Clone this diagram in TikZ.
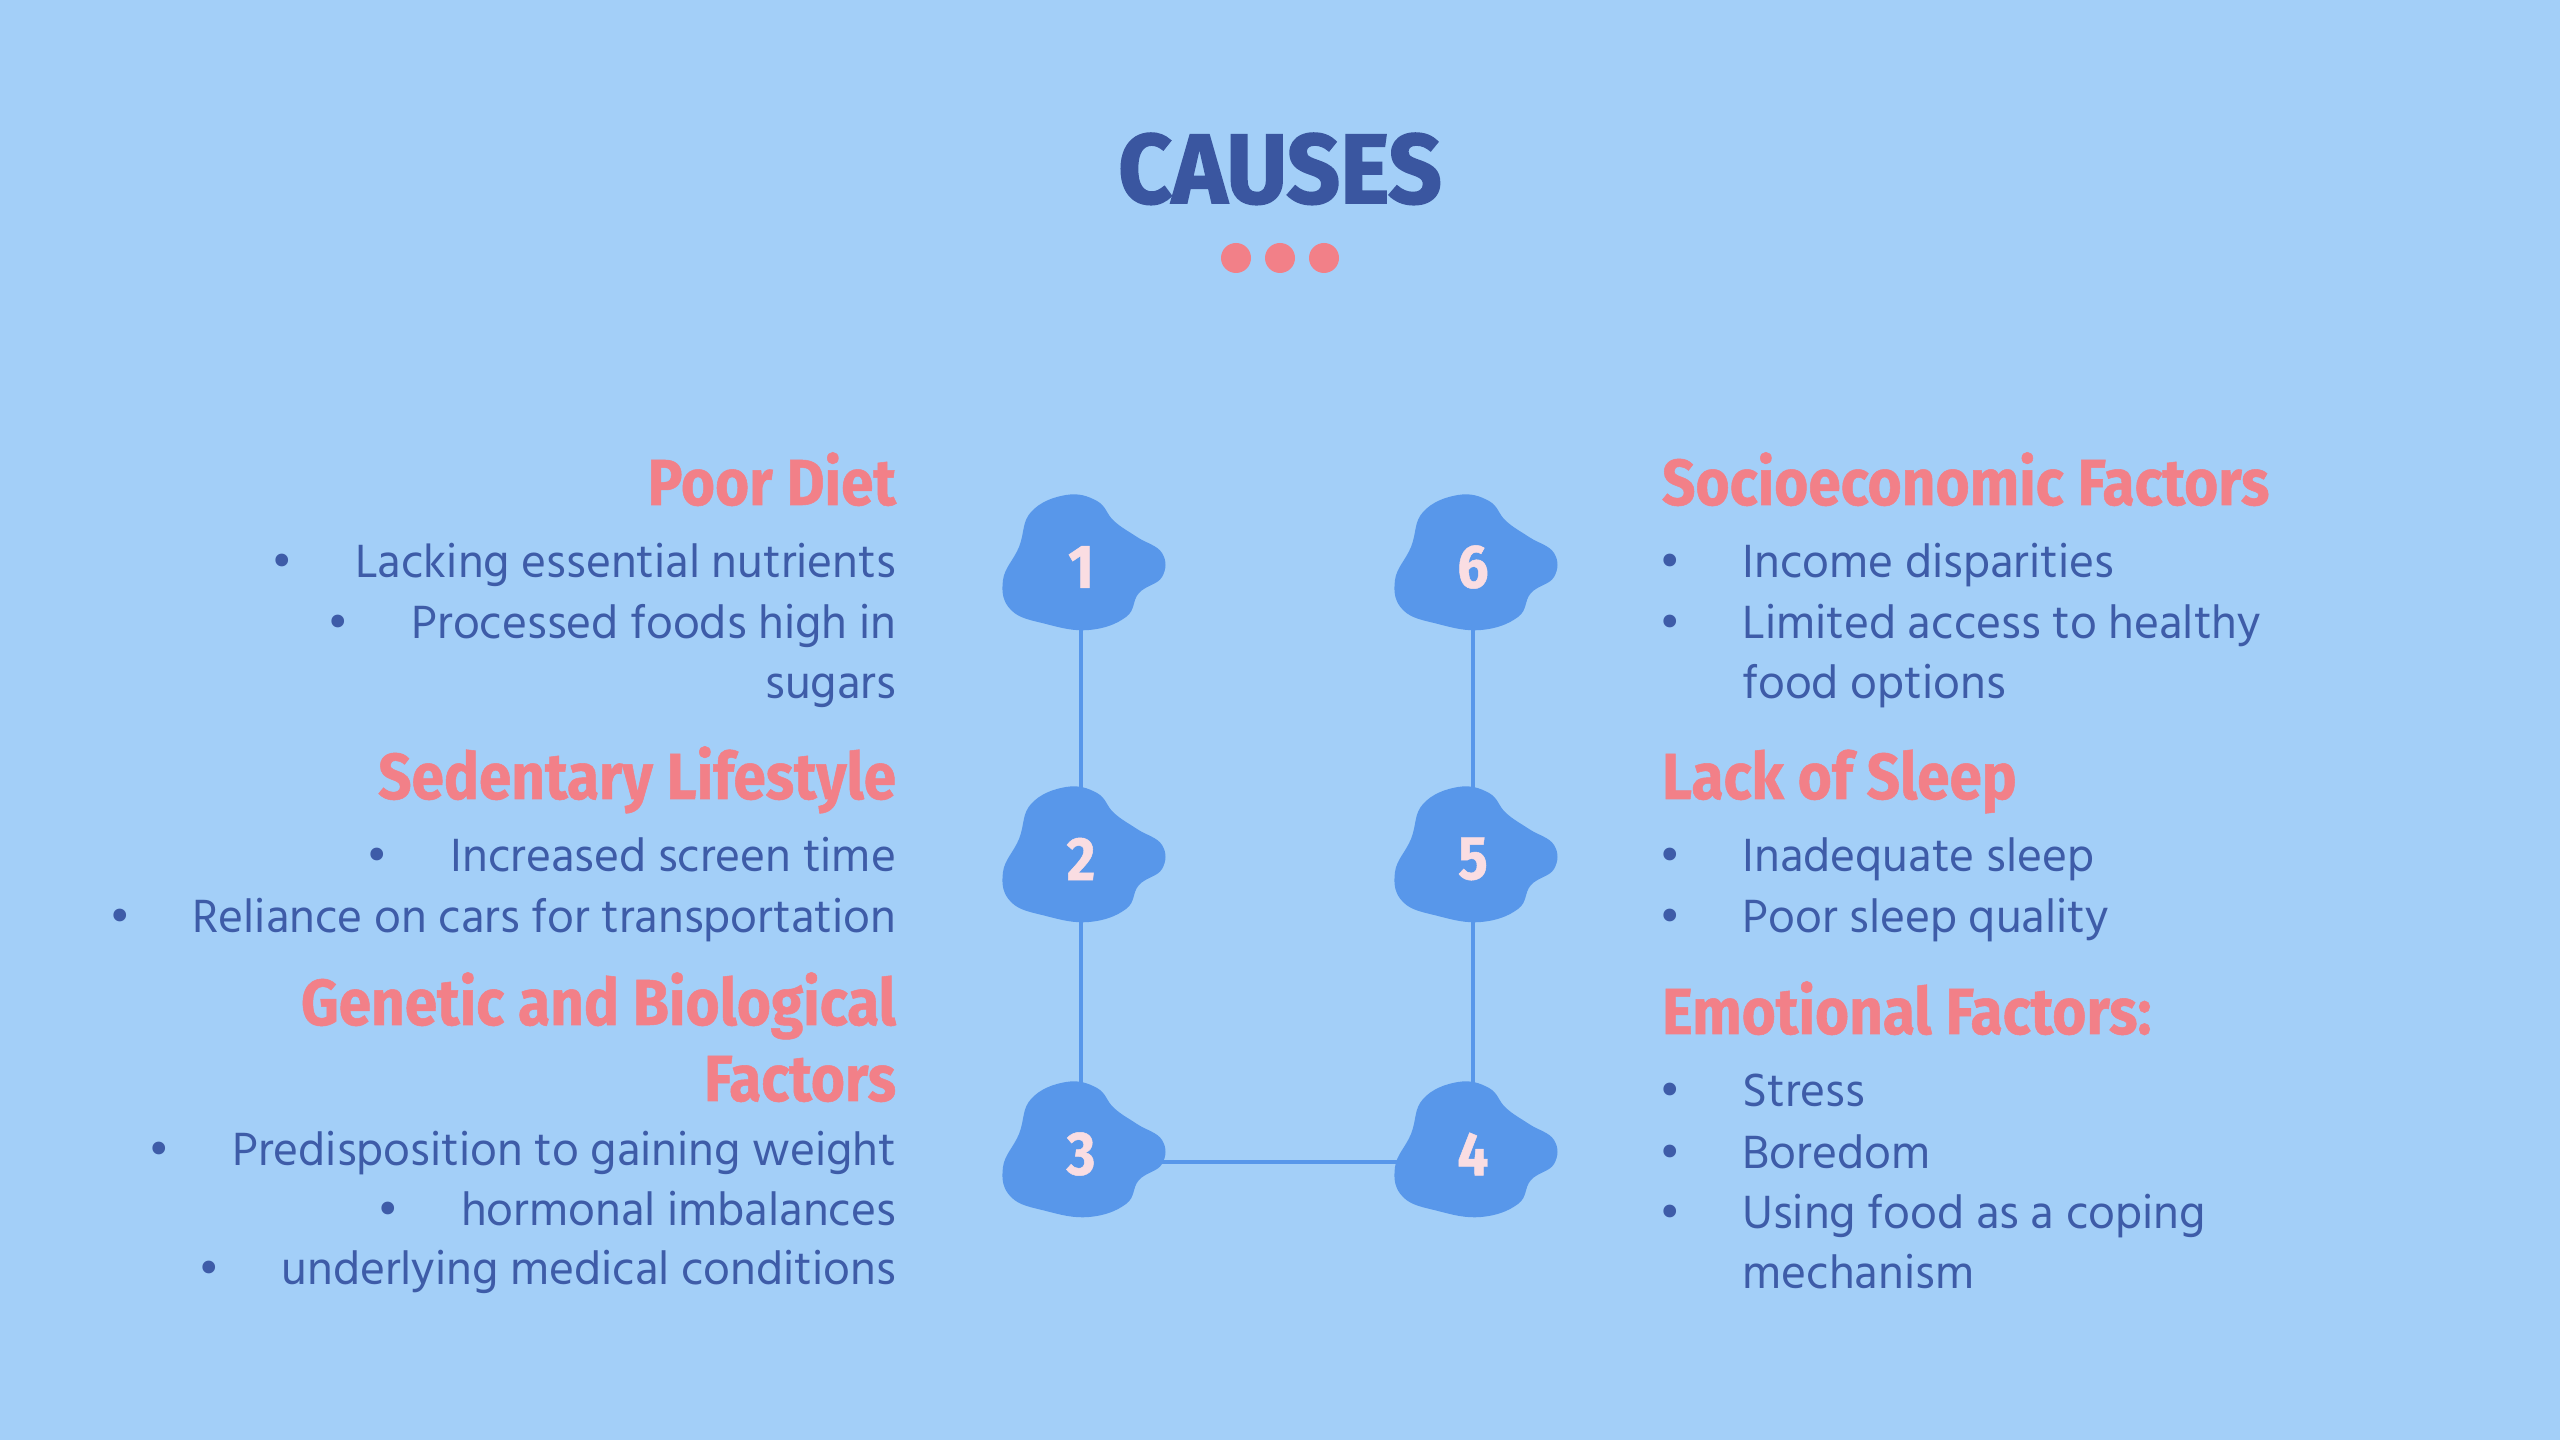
\documentclass[tikz,border=0pt]{standalone}
\usepackage{fontspec}
\setmainfont{Hind Madurai}
\newfontfamily\headfont{Fira Sans}[BoldFeatures={FakeStretch=0.9,FakeBold=0.8}]
\newfontfamily\titlefont{Fira Sans}[BoldFeatures={FakeStretch=0.95,FakeBold=1.8}]
\usepackage{tikz}
\definecolor{bgpale}{RGB}{163,207,248}
\definecolor{blobblue}{RGB}{88,151,234}
\definecolor{titleblue}{RGB}{58,86,160}
\definecolor{headpink}{RGB}{242,128,136}
\definecolor{textblue}{RGB}{62,92,168}
\definecolor{numpink}{RGB}{250,221,226}
\newcommand{\itm}[1]{\textbullet\hspace{0.62cm}#1}
\newcommand{\cont}[1]{\phantom{\textbullet}\hspace{0.62cm}#1}

\begin{document}
\begin{tikzpicture}[every node/.style={inner sep=0pt,outer sep=0pt},
  heading/.style={font=\headfont\bfseries\fontsize{18.5}{20}\selectfont,text=headpink},
  item/.style={font=\fontsize{13.6}{15}\selectfont,text=textblue},
  num/.style={font=\headfont\bfseries\fontsize{17.5}{19}\selectfont,text=numpink},
  link/.style={draw=blobblue,line width=1.2pt}]
  \useasboundingbox[fill=bgpale] (0,0) rectangle (25.6,14.4);

  % title
  \node[font=\titlefont\bfseries\fontsize{28}{30}\selectfont,text=titleblue,anchor=base] (title) at (12.80,12.37) {CAUSES};
  \foreach \x in {12.36,12.80,13.24}
    \fill[headpink] (\x,11.82) circle (0.15);

  % blobs and links
  \coordinate (c1) at (10.81,8.73);
  \coordinate (c2) at (10.81,5.81);
  \coordinate (c3) at (10.81,2.86);
  \coordinate (c4) at (14.73,2.86);
  \coordinate (c5) at (14.73,5.81);
  \coordinate (c6) at (14.73,8.73);
  \draw[link] (c1) -- (c2) -- (c3);
  \draw[link] (c6) -- (c5) -- (c4);
  \draw[link] ([yshift=-0.08cm]c3) -- ([yshift=-0.08cm]c4);
  \foreach \i in {1,...,6}{
    \fill[blobblue,shift={(c\i)}] plot[smooth cycle,tension=0.7] coordinates {
      (-0.15,0.72) (-0.50,0.55) (-0.62,0.20) (-0.78,-0.13) (-0.70,-0.43) (-0.35,-0.57)
      (0.08,-0.63) (0.45,-0.50) (0.58,-0.26) (0.81,-0.10) (0.81,0.14) (0.56,0.30)
      (0.33,0.46) (0.16,0.66)};
    \node[num] (n\i) at (c\i) {\i};
  }

  % left column
  \node[heading,anchor=base east] (diet) at (8.96,9.35) {Poor Diet};
  \node[item,anchor=base east] (diet1) at (8.96,8.62) {\itm{Lacking essential nutrients}};
  \node[item,anchor=base east] (diet2) at (8.96,8.01) {\itm{Processed foods high in}};
  \node[item,anchor=base east] (diet3) at (8.96,7.41) {sugars};
  \node[heading,anchor=base east] (sed) at (8.96,6.41) {Sedentary Lifestyle};
  \node[item,anchor=base east] (sed1) at (8.96,5.68) {\itm{Increased screen time}};
  \node[item,anchor=base east] (sed2) at (8.96,5.07) {\itm{Reliance on cars for transportation}};
  \node[heading,anchor=base east] (gen) at (8.96,4.15) {Genetic and Biological};
  \node[heading,anchor=base east] (gen0) at (8.96,3.39) {Factors};
  \node[item,anchor=base east] (gen1) at (8.96,2.74) {\itm{Predisposition to gaining weight}};
  \node[item,anchor=base east] (gen2) at (8.96,2.15) {\itm{hormonal imbalances}};
  \node[item,anchor=base east] (gen3) at (8.96,1.55) {\itm{underlying medical conditions}};

  % right column
  \node[heading,anchor=base west] (socio) at (16.62,9.35) {Socioeconomic Factors};
  \node[item,anchor=base west] (socio1) at (16.59,8.62) {\itm{Income disparities}};
  \node[item,anchor=base west] (socio2) at (16.59,8.01) {\itm{Limited access to healthy}};
  \node[item,anchor=base west] (socio3) at (16.59,7.41) {\cont{food options}};
  \node[heading,anchor=base west] (sleep) at (16.62,6.41) {Lack of Sleep};
  \node[item,anchor=base west] (sleep1) at (16.59,5.68) {\itm{Inadequate sleep}};
  \node[item,anchor=base west] (sleep2) at (16.59,5.07) {\itm{Poor sleep quality}};
  \node[heading,anchor=base west] (emo) at (16.62,4.06) {Emotional Factors:};
  \node[item,anchor=base west] (emo1) at (16.59,3.33) {\itm{Stress}};
  \node[item,anchor=base west] (emo2) at (16.59,2.72) {\itm{Boredom}};
  \node[item,anchor=base west] (emo3) at (16.59,2.12) {\itm{Using food as a coping}};
  \node[item,anchor=base west] (emo4) at (16.59,1.51) {\cont{mechanism}};
\end{tikzpicture}
\end{document}
